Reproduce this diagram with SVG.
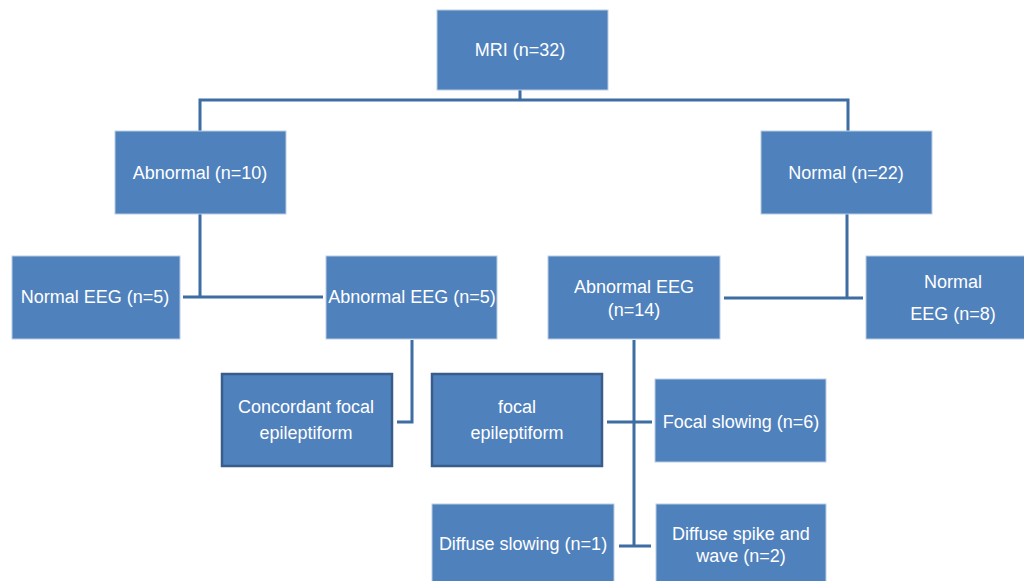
<svg xmlns="http://www.w3.org/2000/svg" width="1024" height="581" viewBox="0 0 1024 581">
<style>
.b{fill:#4f81bd;stroke:#b9cde4;stroke-width:1}
.d{fill:#4f81bd;stroke:#385d8a;stroke-width:2.5}
.t{fill:#ffffff;font-family:"Liberation Sans",Arial,sans-serif;font-size:18px;text-anchor:middle}
.c{fill:none;stroke:#3d6da3;stroke-width:3}
</style>
<rect width="1024" height="581" fill="#ffffff"/>
<g id="connectors">
<path class="c" d="M520 90V100M200 131V100H848V131"/>
<path class="c" d="M200 214V297M183 297H323"/>
<path class="c" d="M412 340V422H397"/>
<path class="c" d="M847 214V298M724 298H863"/>
<path class="c" d="M634 340V546M607 422H652M619 546H651"/>
</g>
<g id="mri"><rect class="b" x="437" y="10" width="171" height="80"/><text class="t" x="520" y="56">MRI (n=32)</text></g>
<g id="abnormal"><rect class="b" x="115" y="131" width="171" height="83"/><text class="t" x="200" y="179">Abnormal (n=10)</text></g>
<g id="normal"><rect class="b" x="761" y="131" width="171" height="83"/><text class="t" x="846" y="179">Normal (n=22)</text></g>
<g id="normal-eeg-5"><rect class="b" x="12" y="256" width="168" height="83"/><text class="t" x="95" y="303">Normal EEG (n=5)</text></g>
<g id="abnormal-eeg-5"><rect class="b" x="326" y="256" width="171" height="83"/><text class="t" x="412" y="303">Abnormal EEG (n=5)</text></g>
<g id="abnormal-eeg-14"><rect class="b" x="548" y="256" width="172" height="83"/><text class="t" x="634" y="293">Abnormal EEG</text><text class="t" x="634" y="316">(n=14)</text></g>
<g id="normal-eeg-8"><rect class="b" x="866" y="256" width="170" height="83"/><text class="t" x="953" y="288">Normal</text><text class="t" x="953" y="320">EEG (n=8)</text></g>
<g id="concordant"><rect class="d" x="222" y="374" width="170" height="92"/><text class="t" x="306" y="413">Concordant focal</text><text class="t" x="306" y="439">epileptiform</text></g>
<g id="focal-epileptiform"><rect class="d" x="432" y="374" width="170" height="92"/><text class="t" x="517" y="413">focal</text><text class="t" x="517" y="439">epileptiform</text></g>
<g id="focal-slowing"><rect class="b" x="655" y="379" width="171" height="83"/><text class="t" x="741" y="428">Focal slowing (n=6)</text></g>
<g id="diffuse-slowing"><rect class="b" x="432" y="504" width="182" height="90"/><text class="t" x="523" y="550">Diffuse slowing (n=1)</text></g>
<g id="diffuse-spike"><rect class="b" x="656" y="504" width="170" height="90"/><text class="t" x="741" y="540">Diffuse spike and</text><text class="t" x="741" y="562">wave (n=2)</text></g>
</svg>
